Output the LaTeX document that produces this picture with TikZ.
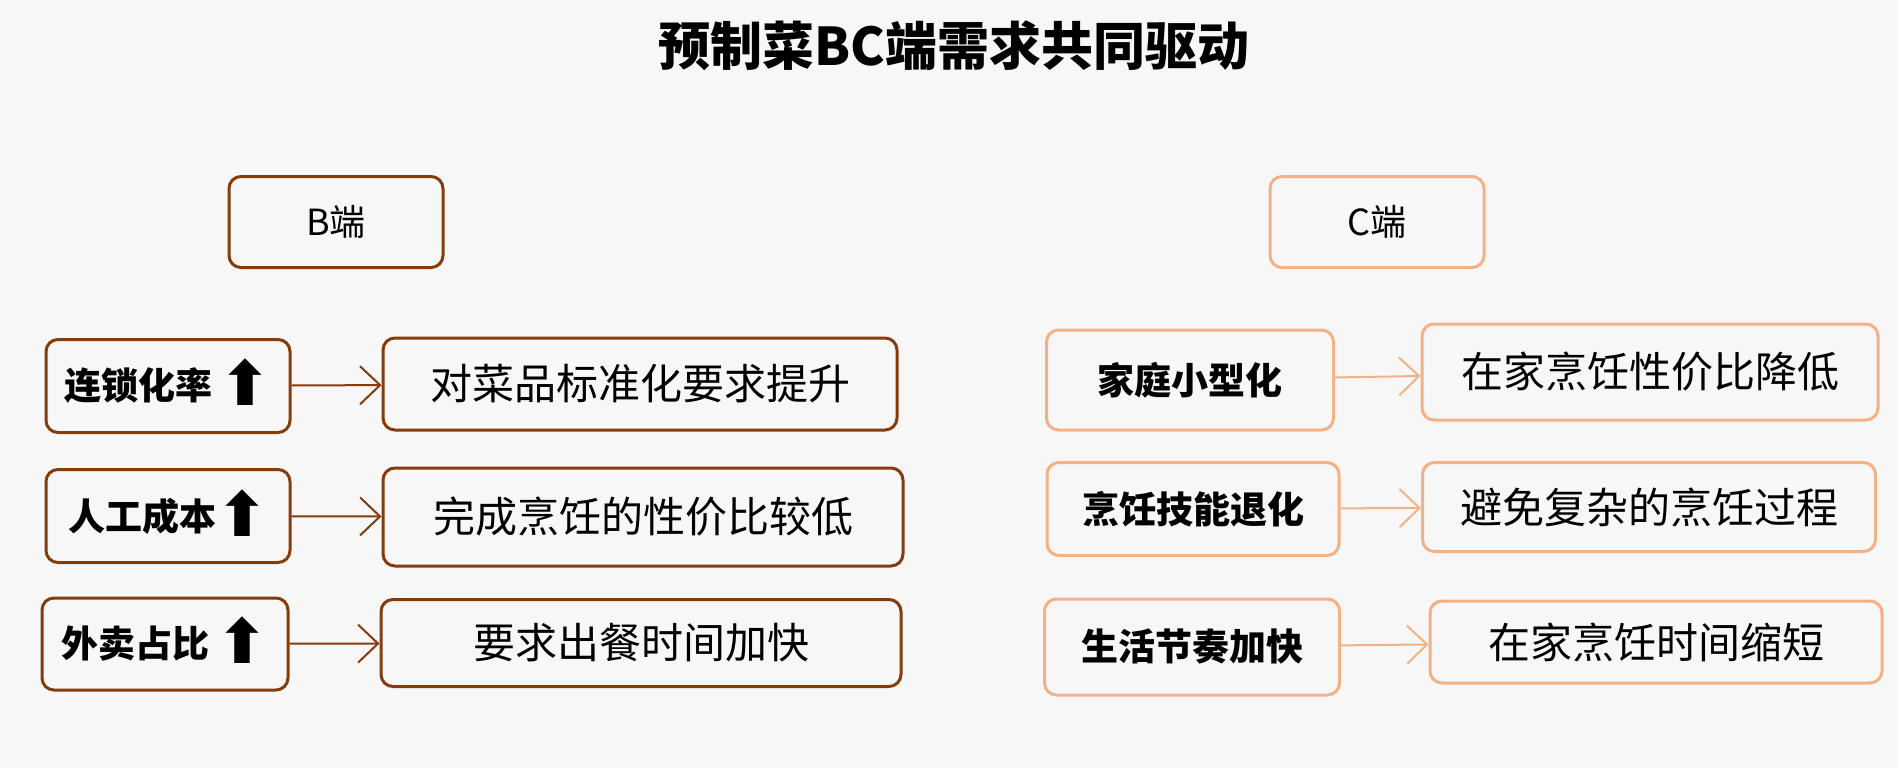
\documentclass[tikz,border=0pt]{standalone}
\usepackage{fontspec}
\setmainfont{Noto Sans CJK SC}
\newfontfamily\symfont{DejaVu Sans}
\usetikzlibrary{arrows.meta}
\definecolor{bgcol}{HTML}{F7F7F7}
\definecolor{bbrown}{HTML}{843C0C}
\definecolor{corange}{HTML}{F4B183}
\newcommand{\upmark}{\smash{\raisebox{-6pt}{\symfont\fontsize{62}{62}\selectfont\char"2B06}}}
\tikzset{
  box/.style={draw,rounded corners=12pt,line width=3pt,inner sep=0pt},
  bbox/.style={box,draw=bbrown},
  cbox/.style={box,draw=corange},
  head/.style={font=\fontsize{36}{42}\selectfont},
  cause/.style={font=\fontsize{37}{44}\selectfont\bfseries},
  effect/.style={font=\fontsize{42}{50}\selectfont},
  blink/.style={draw=bbrown,line width=2pt,-{Straight Barb[length=20pt,width=38pt,line width=2pt]}},
  clink/.style={draw=corange,line width=2pt,-{Straight Barb[length=20pt,width=38pt,line width=2pt]}}
}
\begin{document}
\begin{tikzpicture}[x=1pt,y=-1pt]
\fill[bgcol] (0,0) rectangle (1898,768);
\node[font=\fontsize{52}{60}\selectfont\bfseries](title) at (954,46){预制菜BC端需求共同驱动};
\node[bbox,head,minimum width=214pt,minimum height=91pt](bB) at (336,222){B端};
\node[cbox,head,minimum width=214pt,minimum height=91pt](cC) at (1377,222){C端};
\node[bbox,cause,minimum width=244pt,minimum height=93pt](l1) at (168,386){连锁化率\,\upmark};
\node[bbox,cause,minimum width=244pt,minimum height=93pt](l2) at (168,516){人工成本\upmark};
\node[bbox,cause,minimum width=246pt,minimum height=92pt](l3) at (165,644){外卖占比\,\upmark};
\node[bbox,effect,minimum width=514pt,minimum height=92pt](r1) at (640,384){对菜品标准化要求提升};
\node[bbox,effect,minimum width=520pt,minimum height=98pt](r2) at (643,517){完成烹饪的性价比较低};
\node[bbox,effect,minimum width=520pt,minimum height=87pt](r3) at (641,643){要求出餐时间加快};
\node[cbox,cause,minimum width=287pt,minimum height=100pt](m1) at (1190,380){家庭小型化};
\node[cbox,cause,minimum width=292pt,minimum height=93pt](m2) at (1193,509){烹饪技能退化};
\node[cbox,cause,minimum width=295pt,minimum height=96pt](m3) at (1192,647){生活节奏加快};
\node[cbox,effect,minimum width=456pt,minimum height=96pt](s1) at (1650,372){在家烹饪性价比降低};
\node[cbox,effect,minimum width=453pt,minimum height=89pt](s2) at (1649,507){避免复杂的烹饪过程};
\node[cbox,effect,minimum width=452pt,minimum height=82pt](s3) at (1656,642){在家烹饪时间缩短};
\draw[blink] (l1)--(r1);
\draw[blink] (l2)--(r2);
\draw[blink] (l3)--(r3);
\draw[clink] (m1)--(s1);
\draw[clink] (m2)--(s2);
\draw[clink] (m3)--(s3);
\end{tikzpicture}
\end{document}
